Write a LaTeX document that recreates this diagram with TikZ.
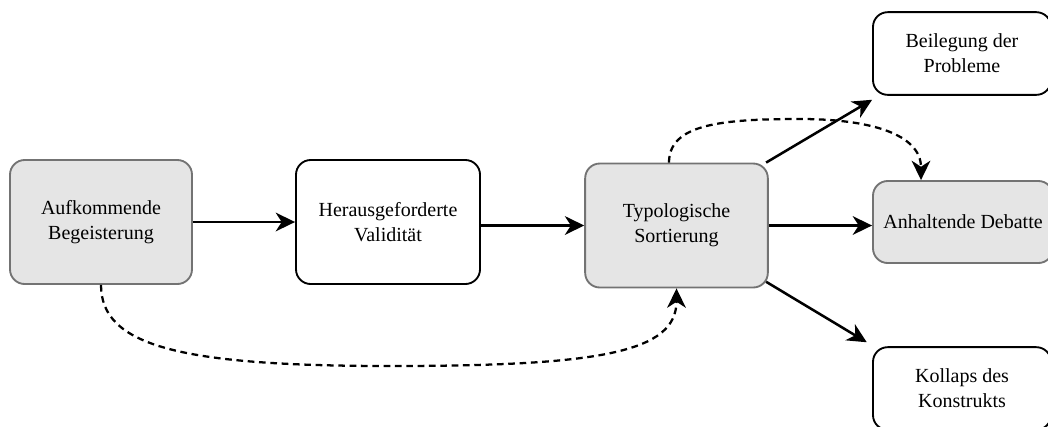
\documentclass[tikz,border=0pt]{standalone}
\usepackage{fontspec}
\setmainfont{Liberation Serif}
\usetikzlibrary{arrows.meta,calc}
\begin{document}
\begin{tikzpicture}[x=0.75pt,y=-0.75pt,
  box/.style={rounded corners=11pt, line width=1.4pt, align=center, inner sep=0pt,
    font=\fontsize{15pt}{18.75pt}\selectfont},
  graybox/.style={box, draw=black!55, fill=black!10},
  whitebox/.style={box, draw=black, fill=white},
  tip/.style={-{Stealth[length=14.5pt,width=14pt,inset=4.5pt]}},
  flow/.style={tip, line width=1.9pt},
  dashflow/.style={tip, line width=1.7pt, dash pattern=on 5pt off 3.5pt}
]
\useasboundingbox (0,0) rectangle (1048,426);
\clip (0,0) rectangle (1048,426);

\node[graybox, minimum width=136.5pt, minimum height=93pt] (A) at (101,222) {Aufkommende\\Begeisterung};
\node[whitebox, minimum width=138pt, minimum height=93pt] (H) at (388,222) {Herausgeforderte\\Validität};
\node[graybox, minimum width=137pt, minimum height=93pt] (T) at (676.5,225.5) {Typologische\\Sortierung};
\node[whitebox, minimum width=133.5pt, minimum height=62pt] (B) at (962,53.5) {Beilegung der\\Probleme};
\node[graybox, minimum width=135pt, minimum height=61.5pt] (D) at (963,222) {Anhaltende Debatte};
\node[whitebox, minimum width=133.5pt, minimum height=62pt] (K) at (962,388.5) {Kollaps des\\Konstrukts};

\coordinate (topmid) at (800,119);
\coordinate (botmid) at (390,366);

\draw[flow] (A.east) -- (H.west);
\draw[flow] (H.east |- T.west) -- (T.west);
\draw[flow] (T.east) -- (D.west |- T.east);
\draw[flow] ([xshift=-2pt]T.north east) -- ([yshift=-3pt]B.south west);
\draw[flow] ([xshift=-2pt,yshift=5pt]T.south east) -- ([xshift=-4pt,yshift=3pt]K.north west);

\draw[dashflow] ($(T.north)+(-7.5,0)$) .. controls ($(T.north)+(-7.5,-38)$) and (720,119) .. (topmid)
  .. controls (870,119) and ($(D.north)+(-42,-46)$) .. ($(D.north)+(-42,0)$);
\draw[dashflow] (A.south) .. controls ($(A.south)+(0,61)$) and (180,366) .. (botmid)
  .. controls (600,366) and ($(T.south)+(0,64)$) .. (T.south);
\end{tikzpicture}
\end{document}
